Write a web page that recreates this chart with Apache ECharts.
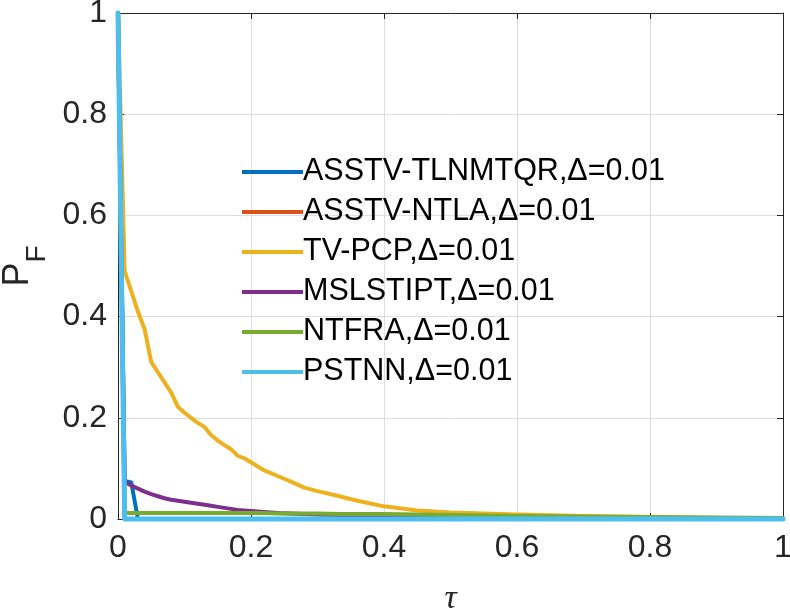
<!DOCTYPE html>
<html>
<head>
<meta charset="utf-8">
<script src="https://cdn.jsdelivr.net/npm/echarts@6/dist/echarts.min.js"></script>
<style>html,body{margin:0;padding:0;background:#fff;width:100%;height:100%;overflow:hidden;}#c{width:100vw;height:100vh;}</style>
</head>
<body>
<div id="c"></div>
<script>
const tau = [0, 0.01, 0.02, 0.03, 0.04, 0.05, 0.06, 0.07, 0.08, 0.09, 0.10, 0.11, 0.12, 0.13, 0.14, 0.15, 0.16, 0.17, 0.18, 0.19, 0.20, 0.22, 0.24, 0.26, 0.28, 0.30, 0.33, 0.36, 0.40, 0.45, 0.50, 0.55, 0.60, 0.70, 0.80, 0.90, 1.00];
const names = ['ASSTV-TLNMTQR,Δ=0.01','ASSTV-NTLA,Δ=0.01','TV-PCP,Δ=0.01','MSLSTIPT,Δ=0.01','NTFRA,Δ=0.01','PSTNN,Δ=0.01'];
const colors = ['#0072BD','#D95319','#EDB120','#7E2F8E','#77AC30','#4DBEEE'];
const asstvTlnmtqr = [1, 0.075, 0.072, 0, 0, 0, 0, 0, 0, 0, 0, 0, 0, 0, 0, 0, 0, 0, 0, 0, 0, 0, 0, 0, 0, 0, 0, 0, 0, 0, 0, 0, 0, 0, 0, 0, 0];
const asstvNtla = [1, 0, 0, 0, 0, 0, 0, 0, 0, 0, 0, 0, 0, 0, 0, 0, 0, 0, 0, 0, 0, 0, 0, 0, 0, 0, 0, 0, 0, 0, 0, 0, 0, 0, 0, 0, 0];
const tvPcp = [1, 0.49, 0.45, 0.41, 0.375, 0.31, 0.29, 0.27, 0.25, 0.222, 0.21, 0.2, 0.19, 0.182, 0.166, 0.155, 0.146, 0.138, 0.125, 0.12, 0.112, 0.096, 0.085, 0.074, 0.062, 0.055, 0.046, 0.036, 0.025, 0.017, 0.013, 0.011, 0.009, 0.006, 0.004, 0.002, 0];
const mslstipt = [1, 0.073, 0.066, 0.06, 0.054, 0.049, 0.045, 0.041, 0.038, 0.036, 0.034, 0.032, 0.030, 0.028, 0.026, 0.024, 0.022, 0.020, 0.018, 0.017, 0.016, 0.014, 0.012, 0.011, 0.010, 0.009, 0.008, 0.007, 0.005, 0.004, 0.003, 0.003, 0.002, 0.001, 0.001, 0.0005, 0];
const ntfra = [1, 0.012, 0.012, 0.012, 0.012, 0.012, 0.012, 0.012, 0.012, 0.012, 0.012, 0.012, 0.012, 0.012, 0.012, 0.012, 0.012, 0.012, 0.012, 0.012, 0.012, 0.012, 0.011, 0.011, 0.011, 0.011, 0.010, 0.010, 0.010, 0.009, 0.008, 0.007, 0.006, 0.005, 0.004, 0.003, 0.002];
const pstnn = [1, 0, 0, 0, 0, 0, 0, 0, 0, 0, 0, 0, 0, 0, 0, 0, 0, 0, 0, 0, 0, 0, 0, 0, 0, 0, 0, 0, 0, 0, 0, 0, 0, 0, 0, 0, 0];
const xTicks = [0, 0.2, 0.4, 0.6, 0.8, 1];
const yTicks = [0, 0.2, 0.4, 0.6, 0.8, 1];

const allSeries = [asstvTlnmtqr, asstvNtla, tvPcp, mslstipt, ntfra, pstnn];
const FONT = 'Liberation Sans, Arial, Helvetica, sans-serif';
const axisCol = '#262626';

const chart = echarts.init(document.getElementById('c'), null, {renderer: 'canvas'});
const option = {
  backgroundColor: '#ffffff',
  animation: false,
  grid: {left: 118, right: 7, top: 13, bottom: 95, containLabel: false, outerBoundsMode: 'none'},
  legend: {
    orient: 'vertical', left: 237, top: 147,
    itemWidth: 61, itemHeight: 4, itemGap: 0,
    icon: 'rect',
    textStyle: {fontFamily: FONT, fontSize: 30.5, color: '#000', lineHeight: 40, padding: [0,0,0,-5]},
    data: names
  },
  xAxis: [{
    type: 'value', min: xTicks[0], max: xTicks[xTicks.length-1], interval: 0.2, position: 'bottom',
    name: 'τ', nameLocation: 'middle', nameGap: 63,
    nameTextStyle: {fontFamily: 'Liberation Serif, DejaVu Serif, serif', fontStyle: 'italic', fontSize: 34, color: axisCol},
    axisLine: {show: true, onZero: false, lineStyle: {color: axisCol, width: 1}},
    axisTick: {show: true, inside: true, length: 6, lineStyle: {color: axisCol}},
    axisLabel: {fontFamily: FONT, fontSize: 32, color: axisCol, margin: 13},
    splitLine: {show: true, lineStyle: {color: '#dedede', width: 1}}
  }, {
    type: 'value', min: 0, max: 1, interval: 0.2, position: 'top',
    axisLine: {show: true, onZero: false, lineStyle: {color: axisCol, width: 1}},
    axisTick: {show: true, inside: true, length: 6, lineStyle: {color: axisCol}},
    axisLabel: {show: false}, splitLine: {show: false}
  }],
  yAxis: [{
    type: 'value', min: yTicks[0], max: yTicks[yTicks.length-1], interval: 0.2, position: 'left',
    name: '{p|P}{f|F}', nameLocation: 'middle', nameRotate: 90, nameGap: 82,
    nameTextStyle: {rich: {
      p: {fontFamily: FONT, fontSize: 36, color: axisCol, verticalAlign: 'bottom', lineHeight: 36},
      f: {fontFamily: FONT, fontSize: 28, color: axisCol, verticalAlign: 'bottom', lineHeight: 36, padding: [0,0,-16,0]}
    }},
    axisLine: {show: true, onZero: false, lineStyle: {color: axisCol, width: 1}},
    axisTick: {show: true, inside: true, length: 6, lineStyle: {color: axisCol}},
    axisLabel: {fontFamily: FONT, fontSize: 32, color: axisCol, margin: 11},
    splitLine: {show: true, lineStyle: {color: '#dedede', width: 1}}
  }, {
    type: 'value', min: 0, max: 1, interval: 0.2, position: 'right',
    axisLine: {show: true, onZero: false, lineStyle: {color: axisCol, width: 1}},
    axisTick: {show: true, inside: true, length: 6, lineStyle: {color: axisCol}},
    axisLabel: {show: false}, splitLine: {show: false}
  }],
  series: allSeries.map((vals, i) => ({
    name: names[i], type: 'line', xAxisIndex: 0, yAxisIndex: 0,
    data: tau.map((t, k) => [t, vals[k]]),
    showSymbol: false, symbol: 'none',
    color: colors[i],
    lineStyle: {color: colors[i], width: i === 5 ? 5 : 4, cap: 'round', join: 'round'},
    clip: false
  }))
};
chart.setOption(option);
</script>
</body>
</html>
